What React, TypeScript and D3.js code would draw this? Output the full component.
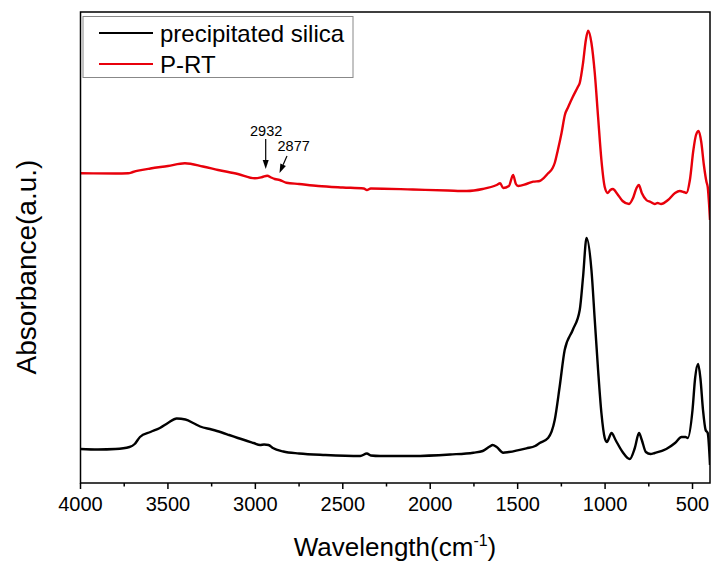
import React from "react";
import * as d3 from "d3";

// Wavenumbers (cm^-1) and absorbance (a.u.)
const silicaWn = [4000, 3900, 3800, 3720, 3690, 3660, 3600, 3546, 3500, 3450, 3400, 3350, 3316, 3250, 3220, 3150, 3100, 3010, 2973, 2950, 2925, 2900, 2840, 2750, 2600, 2400, 2362, 2340, 2286, 2100, 1886, 1753, 1700, 1660, 1643, 1620, 1583, 1550, 1450, 1400, 1374, 1326, 1288, 1260, 1231, 1185, 1145, 1126, 1106, 1078, 1059, 1040, 1021, 1002, 990, 963, 940, 900, 859, 830, 806, 790, 767, 740, 716, 650, 600, 563, 540, 527, 500, 485, 468, 455, 440, 425, 413, 400];
const silicaPx = [449, 449.5, 449, 447, 444, 437, 432, 428, 423, 418.5, 419.5, 423.5, 426.5, 429.5, 431, 435, 438, 443, 445, 444.5, 445, 448, 451.5, 453.5, 455, 456, 453.5, 455.5, 456, 456, 454.5, 452.7, 451, 446.5, 445, 447, 452.7, 452, 448.3, 446, 443, 438, 420, 387, 350, 330, 310, 277, 238, 270, 320, 370, 413, 438, 442, 433, 440, 452, 459, 448, 433, 440, 452, 454, 453, 449, 443, 437, 437, 438, 410, 378, 364, 378, 410, 430, 433, 465];

const prtWn = [4000, 3800, 3727, 3700, 3670, 3600, 3500, 3403, 3300, 3213, 3100, 3003, 2960, 2932, 2910, 2889, 2861, 2823, 2750, 2641, 2500, 2380, 2362, 2340, 2100, 1900, 1791, 1700, 1620, 1600, 1583, 1550, 1526, 1510, 1497, 1450, 1411, 1374, 1326, 1300, 1288, 1270, 1249, 1230, 1211, 1185, 1156, 1145, 1126, 1110, 1097, 1078, 1059, 1040, 1021, 1002, 985, 970, 955, 930, 900, 863, 840, 820, 807, 790, 764, 740, 716, 700, 680, 640, 600, 573, 550, 535, 515, 495, 480, 465, 450, 435, 420, 413, 405, 400];
const prtPx = [173.3, 173.5, 173.3, 172, 170.7, 168.5, 166, 163.3, 166.5, 170, 174, 178.3, 177, 175.7, 177.5, 179, 180, 182.7, 184, 186, 187.5, 188.5, 190, 188.5, 189.5, 190.5, 191, 189, 185, 183.3, 188, 186, 175, 184, 186, 184, 181.7, 181, 173.3, 168, 163, 150, 133, 115, 107, 97, 87, 83, 63, 40, 30.7, 43, 73, 117, 160, 187, 193, 190, 189, 194, 201, 204, 198, 188, 185, 193, 200, 202, 204, 203, 204, 200, 193, 191, 192, 193, 180, 150, 135, 131, 142, 165, 182, 187, 205, 220];

const xTicks = [4000, 3500, 3000, 2500, 2000, 1500, 1000, 500];
const xMinor = [3750, 3250, 2750, 2250, 1750, 1250, 750];
const seriesNames = ["precipitated silica", "P-RT"];
const seriesColors = ["#000000", "#e8000b"];

const W = 711, H = 562;
const L = 80.5, R = 710, T = 12, B = 483;
const FONT = "Arial, 'Liberation Sans', sans-serif";

// absorbance in a.u.: height above plot bottom / 100
const toAbs = (px: number[]) => px.map((p) => (B - p) / 100);

export default function App() {
  const x = d3.scaleLinear().domain([4000, 400]).range([L, R]);
  const y = d3.scaleLinear().domain([0, (B - T) / 100]).range([B, T]);
  const line = d3
    .line<[number, number]>()
    .x((d) => x(d[0]))
    .y((d) => y(d[1]))
    .curve(d3.curveMonotoneX);

  const sAbs = toAbs(silicaPx);
  const pAbs = toAbs(prtPx);
  const silica = silicaWn.map((w, i) => [w, sAbs[i]] as [number, number]);
  const prt = prtWn.map((w, i) => [w, pAbs[i]] as [number, number]);

  const arrow = (x1: number, y1: number, x2: number, y2: number) => {
    const ang = Math.atan2(y2 - y1, x2 - x1);
    const len = 9, hw = 3;
    const bx = x2 - len * Math.cos(ang), by = y2 - len * Math.sin(ang);
    const px = -Math.sin(ang) * hw, py = Math.cos(ang) * hw;
    return (
      <g>
        <line x1={x1} y1={y1} x2={bx} y2={by} stroke="#000" strokeWidth={1.2} />
        <path d={`M${x2},${y2}L${bx + px},${by + py}L${bx - px},${by - py}Z`} fill="#000" />
      </g>
    );
  };

  return (
    <svg width={W} height={H} style={{ position: "absolute", left: 0, top: 0, background: "#fff" }}>
      <defs>
        <clipPath id="plot">
          <rect x={L} y={T} width={R - L} height={B - T} />
        </clipPath>
      </defs>
      <g clipPath="url(#plot)">
        <path d={line(silica) || ""} fill="none" stroke={seriesColors[0]} strokeWidth={2.4} strokeLinejoin="round" />
        <path d={line(prt) || ""} fill="none" stroke={seriesColors[1]} strokeWidth={2.4} strokeLinejoin="round" />
      </g>
      <rect x={L} y={T} width={R - L} height={B - T} fill="none" stroke="#000" strokeWidth={1.5} />
      {xTicks.map((t) => (
        <g key={t}>
          <line x1={x(t)} x2={x(t)} y1={B} y2={B + 6} stroke="#000" strokeWidth={1.5} />
          <text x={x(t)} y={511} textAnchor="middle" fontFamily={FONT} fontSize={20}>{t}</text>
        </g>
      ))}
      {xMinor.map((t) => (
        <line key={t} x1={x(t)} x2={x(t)} y1={B} y2={B + 3.5} stroke="#000" strokeWidth={1.5} />
      ))}
      <text x={395} y={556} textAnchor="middle" fontFamily={FONT} fontSize={26}>
        Wavelength(cm<tspan dy={-10} fontSize={16}>-1</tspan><tspan dy={10}>)</tspan>
      </text>
      <text transform="translate(36,267) rotate(-90)" textAnchor="middle" fontFamily={FONT} fontSize={28}>
        Absorbance(a.u.)
      </text>
      {/* legend */}
      <rect x={83} y={16.5} width={270} height={61} fill="#fff" stroke="#888" strokeWidth={1} />
      {seriesNames.map((n, i) => (
        <g key={n}>
          <line x1={99} x2={153} y1={33 + i * 31} y2={33 + i * 31} stroke={seriesColors[i]} strokeWidth={2} />
          <text x={160} y={41.5 + i * 31} fontFamily={FONT} fontSize={24}>{n}</text>
        </g>
      ))}
      {/* annotations */}
      <text x={250} y={136} fontFamily={FONT} fontSize={14.5}>2932</text>
      {arrow(265.7, 139, 265.7, 169)}
      <text x={277.5} y={150.5} fontFamily={FONT} fontSize={14.5}>2877</text>
      {arrow(287, 156, 279.5, 173)}
    </svg>
  );
}
